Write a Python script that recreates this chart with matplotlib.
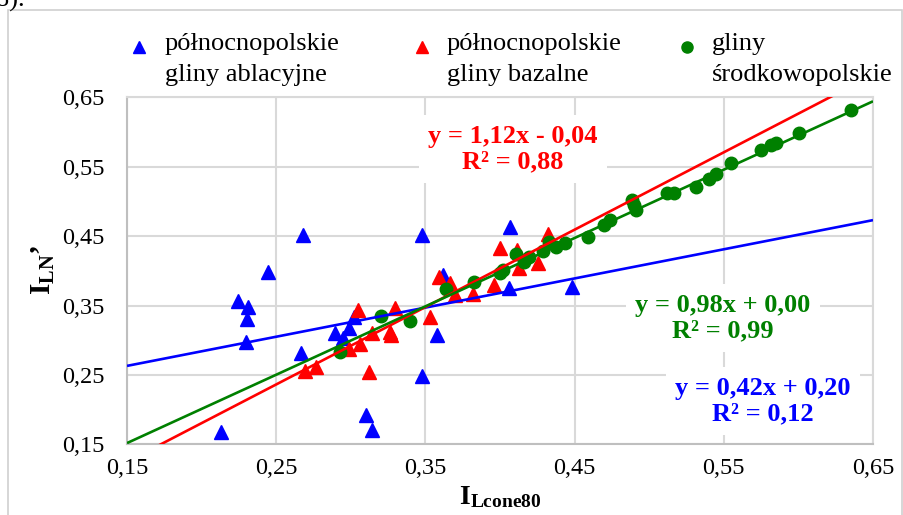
import matplotlib
matplotlib.use("Agg")
import matplotlib.pyplot as plt
from matplotlib.lines import Line2D
from matplotlib.patches import Rectangle
from matplotlib.ticker import FuncFormatter
import numpy as np

plt.rcParams['font.family'] = ['Liberation Serif', 'DejaVu Serif']
plt.rcParams['mathtext.fontset'] = 'custom'
plt.rcParams['mathtext.rm'] = 'Liberation Serif'
plt.rcParams['mathtext.bf'] = 'Liberation Serif:bold'
plt.rcParams['mathtext.it'] = 'Liberation Serif:italic'

# ---------------- data ----------------
series_labels = ["północnopolskie\ngliny ablacyjne",
                 "północnopolskie\ngliny bazalne",
                 "gliny\nśrodkowopolskie"]

ablac_x = [0.213, 0.2247, 0.2314, 0.2305, 0.2297, 0.2448, 0.2677, 0.2668, 0.2896,
           0.2948, 0.2988, 0.302, 0.310, 0.314, 0.348, 0.348, 0.358, 0.362,
           0.4059, 0.407, 0.4485]
ablac_y = [0.168, 0.3565, 0.348, 0.330, 0.297, 0.398, 0.4516, 0.282, 0.310,
           0.303, 0.317, 0.334, 0.192, 0.171, 0.4516, 0.249, 0.307, 0.394,
           0.3748, 0.4636, 0.377]

bazal_x = [0.269, 0.2766, 0.299, 0.3064, 0.305, 0.312, 0.3142, 0.326, 0.327,
           0.3297, 0.353, 0.359, 0.3668, 0.3697, 0.3817, 0.3959, 0.3997, 0.4115,
           0.4130, 0.4254, 0.4323]
bazal_y = [0.256, 0.262, 0.288, 0.2945, 0.343, 0.254, 0.310, 0.312, 0.308,
           0.346, 0.334, 0.3915, 0.382, 0.365, 0.366, 0.3796, 0.4324, 0.430,
           0.4036, 0.411, 0.453]

srod_x = [0.2925, 0.320, 0.340, 0.3639, 0.3829, 0.4003, 0.4021, 0.4104, 0.416,
          0.4193, 0.4287, 0.4327, 0.4372, 0.4433, 0.4589, 0.4697, 0.4737, 0.4887,
          0.4898, 0.491, 0.5117, 0.5167, 0.5312, 0.5404, 0.5446, 0.555, 0.5748,
          0.5815, 0.5849, 0.6005, 0.635]
srod_y = [0.283, 0.335, 0.327, 0.3733, 0.3843, 0.3964, 0.401, 0.4242, 0.413,
          0.4203, 0.429, 0.442, 0.4347, 0.4396, 0.4491, 0.466, 0.473, 0.502,
          0.4948, 0.4876, 0.5117, 0.5117, 0.521, 0.532, 0.539, 0.555, 0.574,
          0.5813, 0.5846, 0.599, 0.6317]

# trend lines (slope, intercept) as drawn
trend_slope = [0.42, 1.115, 0.985]
trend_icpt = [0.200, -0.0425, 0.004]
trend_text = ["y = 0,42x + 0,20\nR² = 0,12",
              "y = 1,12x - 0,04\nR² = 0,88",
              "y = 0,98x + 0,00\nR² = 0,99"]

ticks = [0.15, 0.25, 0.35, 0.45, 0.55, 0.65]

colors = ['#0000ff', '#ff0000', '#008000']
markers = ['^', '^', 'o']

# ---------------- figure ----------------
W, H = 904, 515
fig = plt.figure(figsize=(W / 100, H / 100), dpi=100)

def fx(px):
    return px / W

def fy(py):
    return 1 - py / H

ax_l, ax_r, ax_t, ax_b = 127, 873, 97.3, 444.3
ax = fig.add_axes([fx(ax_l), fy(ax_b), (ax_r - ax_l) / W, (ax_b - ax_t) / H])

# outer chart frame
fig.add_artist(Rectangle((fx(8), -0.05), fx(902) - fx(8), fy(10) + 0.05,
                         transform=fig.transFigure, fill=False,
                         edgecolor='#d0d0d0', lw=1.2, clip_on=False))
# clipped caption fragment at top (cut off in the reference too)
fig.text(fx(-4), fy(7), "8).", fontsize=19, va='baseline', ha='left')

data = [(ablac_x, ablac_y), (bazal_x, bazal_y), (srod_x, srod_y)]
msizes = [9.5, 9.5, 9]
for (xs, ys), c, m, ms in zip(data, colors, markers, msizes):
    ax.plot(xs, ys, ls='none', marker=m, ms=ms, color=c, mec=c, zorder=3)

xx = np.array([0.15, 0.65])
for s, b, c in zip(trend_slope, trend_icpt, colors):
    ax.plot(xx, s * xx + b, color=c, lw=1.9, zorder=4, solid_capstyle='butt')

ax.set_xlim(0.15, 0.65)
ax.set_ylim(0.15, 0.65)
ax.set_xticks(ticks)
ax.set_yticks(ticks)
fmt = FuncFormatter(lambda v, p: f"{v:.2f}".replace('.', ','))
ax.xaxis.set_major_formatter(fmt)
ax.yaxis.set_major_formatter(fmt)
ax.tick_params(axis='both', length=0, labelsize=17.5)
ax.tick_params(axis='x', pad=10)
ax.tick_params(axis='y', pad=16)
ax.grid(True, color='#d9d9d9', lw=1.5)
ax.set_axisbelow(True)
for side in ['top', 'right']:
    ax.spines[side].set_color('#d9d9d9')
    ax.spines[side].set_linewidth(1.5)
for side in ['left', 'bottom']:
    ax.spines[side].set_color('#bfbfbf')
    ax.spines[side].set_linewidth(1.5)

# trendline labels
label_pos = [(763, 401), (513, 149), (723, 318)]
for txt, (px, py), c in zip(trend_text, label_pos, colors):
    fig.text(fx(px), fy(py), txt, color=c, fontsize=19, fontweight='bold',
             ha='center', va='center', multialignment='center', zorder=6,
             linespacing=1.15,
             bbox=dict(boxstyle='square,pad=0.35', fc='white', ec='none'))

# axis labels
fig.text(fx(43), fy(270), r"$\mathbf{I}_{\mathbf{LN}}$’", rotation=90,
         fontsize=21, fontweight='bold', ha='center', va='center')
fig.text(fx(500), fy(497), r"$\mathbf{I}_{\mathbf{Lcone80}}$",
         fontsize=20, fontweight='bold', ha='center', va='center')

# legend (manual placement)
leg_marker_x = [139, 422, 687]
leg_text_x = [165, 447, 712]
for lab, mx, tx, c, m in zip(series_labels, leg_marker_x, leg_text_x, colors, markers):
    fig.add_artist(Line2D([fx(mx)], [fy(47)], transform=fig.transFigure,
                          ls='none', marker=m, ms=8, color=c, mec=c))
    l1, l2 = lab.split("\n")
    fig.text(fx(tx), fy(50), l1, fontsize=19, ha='left', va='baseline')
    fig.text(fx(tx), fy(81), l2, fontsize=19, ha='left', va='baseline')

fig.savefig("out.png", dpi=100)
